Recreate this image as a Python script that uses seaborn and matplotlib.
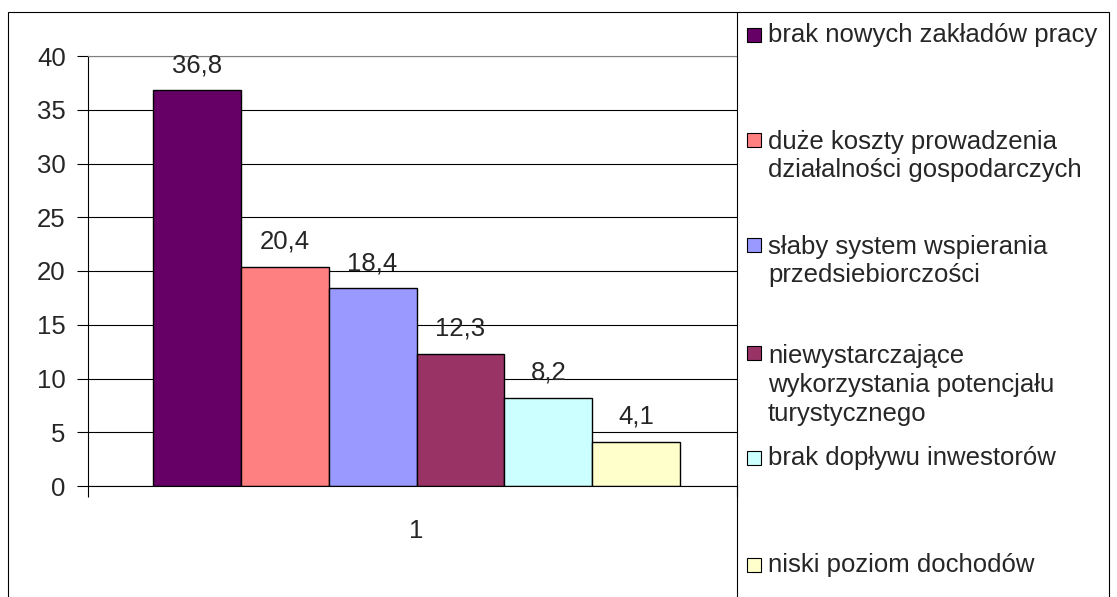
import matplotlib
matplotlib.use("Agg")
import matplotlib.pyplot as plt
import pandas as pd
import seaborn as sns
from matplotlib.patches import Rectangle
from matplotlib.lines import Line2D

# data
przyczyny = [
    "brak nowych zakładów pracy",
    "duże koszty prowadzenia\ndziałalności gospodarczych",
    "słaby system wspierania\nprzedsiebiorczości",
    "niewystarczające\nwykorzystania potencjału\nturystycznego",
    "brak dopływu inwestorów",
    "niski poziom dochodów",
]
wartosci = [36.8, 20.4, 18.4, 12.3, 8.2, 4.1]
kategoria = ["1"] * len(wartosci)
kolory = ["#660066", "#FF8080", "#9999FF", "#993366", "#CCFFFF", "#FFFFCC"]
y_ticks = [0, 5, 10, 15, 20, 25, 30, 35, 40]

df = pd.DataFrame({"kat": kategoria, "przyczyna": przyczyny, "wartosc": wartosci})

sns.set_style("white")
plt.rcParams["font.family"] = ["Liberation Sans", "DejaVu Sans"]
FS = 18.5

W, H = 1117, 597
fig = plt.figure(figsize=(W / 100, H / 100), dpi=100)


def fx(px):
    return px / W


def fy(py):
    return 1 - py / H


ax = fig.add_axes([fx(88), fy(486), (737 - 88) / W, (486 - 56) / H])
sns.barplot(data=df, x="kat", y="wartosc", hue="przyczyna", hue_order=przyczyny,
            palette=kolory, edgecolor="black", linewidth=1.0, width=0.8,
            saturation=1, legend=False, ax=ax)

for cont, v in zip(ax.containers, wartosci):
    ax.bar_label(cont, labels=[f"{v}".replace(".", ",")], padding=9.5, fontsize=FS)

ax.set_ylim(0, 40)
ax.set_xlim(-0.4987, 0.4865)
ax.set_yticks(y_ticks)
ax.set_xlabel("")
ax.set_ylabel("")
ax.grid(axis="y", color="black", linewidth=0.8)
ax.set_axisbelow(True)
ax.tick_params(axis="y", direction="out", length=8, width=0.8, color="black",
               labelsize=FS, pad=8, left=True)
ax.tick_params(axis="x", which="major", length=0, labelsize=FS, pad=24)
ax.set_xticks([-0.4987, 0.4865], minor=True)
ax.tick_params(axis="x", which="minor", direction="out", length=8, width=0.8,
               color="black", bottom=True)
for s in ["left", "bottom"]:
    ax.spines[s].set_color("black")
    ax.spines[s].set_linewidth(0.8)
ax.spines["top"].set_color("#808080")
ax.spines["top"].set_linewidth(0.8)
ax.spines["right"].set_visible(False)

# outer chart border and legend box
fig.patches.append(Rectangle((fx(8), fy(620)), fx(1109) - fx(8), fy(12) - fy(620),
                             transform=fig.transFigure, fill=False,
                             edgecolor="black", linewidth=0.8))
fig.lines.append(Line2D([fx(737), fx(737)], [fy(12), fy(620)],
                        transform=fig.transFigure, color="black", linewidth=0.8))

# legend entries
wiersz_y = [35, 140, 245, 353, 458, 565]
for lab, kol, yy in zip(przyczyny, kolory, wiersz_y):
    fig.patches.append(Rectangle((fx(747), fy(yy + 7)), 14 / W, 14 / H,
                                 transform=fig.transFigure, facecolor=kol,
                                 edgecolor="black", linewidth=0.8))
    n = lab.count("\n")
    fig.text(fx(768), fy(yy + n * 16), lab, fontsize=FS, va="center", ha="left",
             linespacing=1.25)

fig.savefig("out.png", dpi=100)
